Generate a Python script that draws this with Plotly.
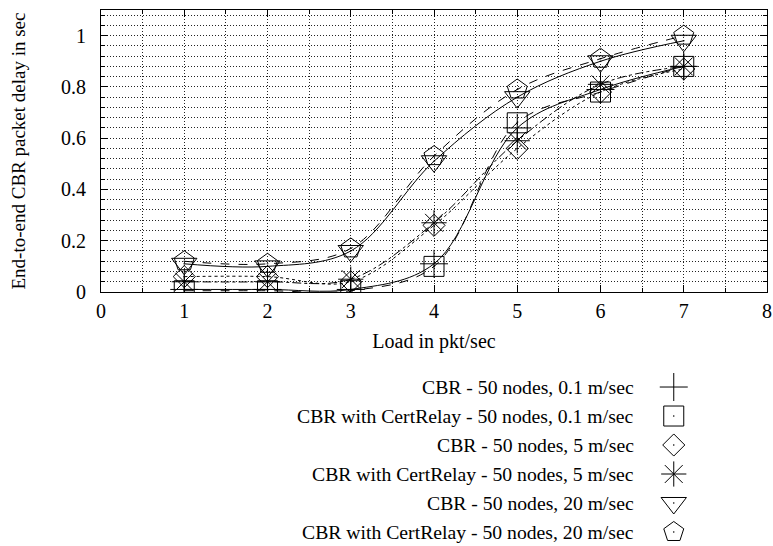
import plotly.graph_objects as go

loads = [1, 2, 3, 4, 5, 6, 7]
names = [
    "CBR - 50 nodes, 0.1 m/sec",
    "CBR with CertRelay - 50 nodes, 0.1 m/sec",
    "CBR - 50 nodes, 5 m/sec",
    "CBR with CertRelay - 50 nodes, 5 m/sec",
    "CBR - 50 nodes, 20 m/sec",
    "CBR with CertRelay - 50 nodes, 20 m/sec",
]
cbr_01 = [0.01, 0.01, 0.01, 0.11, 0.64, 0.79, 0.88]
cert_01 = [0.005, 0.005, 0.005, 0.10, 0.66, 0.78, 0.88]
cbr_5 = [0.06, 0.06, 0.04, 0.26, 0.56, 0.78, 0.87]
cert_5 = [0.04, 0.04, 0.05, 0.27, 0.59, 0.81, 0.88]
cbr_20 = [0.11, 0.10, 0.16, 0.51, 0.76, 0.90, 0.98]
cert_20 = [0.12, 0.11, 0.17, 0.53, 0.79, 0.91, 1.00]
series = [cbr_01, cert_01, cbr_5, cert_5, cbr_20, cert_20]

symbols = ["cross-thin-open", "square-open-dot", "diamond-open-dot",
           "asterisk-open", "triangle-down-open-dot", "pentagon-open-dot"]
sizes = [20, 20, 17, 21, 22, 21]
dashes = ["solid", "dash", "dot", "dashdot", "solid", "dash"]

FONT = "Liberation Serif"
fig = go.Figure()

for name, ys, dash in zip(names, series, dashes):
    fig.add_trace(go.Scatter(
        x=loads, y=ys, mode="lines", name=name, showlegend=False,
        line=dict(color="black", width=1, dash=dash, shape="spline", smoothing=1.0),
        hoverinfo="skip"))
for name, ys, sym, sz in zip(names, series, symbols, sizes):
    fig.add_trace(go.Scatter(
        x=loads, y=ys, mode="markers", name=name, showlegend=False,
        marker=dict(symbol=sym, size=sz, color="black",
                    line=dict(color="black", width=1))))

# custom legend (text left of symbol), in a hidden subplot below the plot
n = len(names)
for i, (name, sym, sz) in enumerate(zip(names, symbols, sizes)):
    fig.add_trace(go.Scatter(
        x=[0.86], y=[n - 1 - i], mode="markers", showlegend=False,
        xaxis="x2", yaxis="y2",
        marker=dict(symbol=sym, size=sz, color="black",
                    line=dict(color="black", width=1))))
    fig.add_annotation(x=0.804, y=n - 1 - i, xref="x2", yref="y2", text=name,
                       showarrow=False, xanchor="right", yanchor="middle",
                       font=dict(family=FONT, size=19.7, color="black"))

grid_col = "#222222"
gdash = "1px,2px"
fig.update_layout(
    template="none",
    width=773, height=546,
    margin=dict(l=101, r=6, t=10, b=4, autoexpand=False),
    paper_bgcolor="white", plot_bgcolor="white",
    font=dict(family=FONT, size=20, color="black"),
    xaxis=dict(
        range=[0, 8], dtick=1, tick0=0, domain=[0, 1], automargin=False,
        showline=True, mirror="allticks", linecolor="black", linewidth=1,
        ticks="inside", ticklen=7, tickcolor="black",
        showgrid=True, gridcolor=grid_col, griddash=gdash, gridwidth=1,
        zeroline=False,
        minor=dict(dtick=0.5, showgrid=True, gridcolor=grid_col, griddash=gdash,
                   ticks="inside", ticklen=4, tickcolor="black"),
        title=dict(text="Load in pkt/sec", standoff=12,
                   font=dict(family=FONT, size=20)),
        tickfont=dict(family=FONT, size=20),
        ticklabelstandoff=1,
        ticklabeloverflow="allow",
        anchor="y",
    ),
    yaxis=dict(
        range=[0, 1.1], dtick=0.2, tick0=0, domain=[0.4699, 1], automargin=False,
        showline=True, mirror="allticks", linecolor="black", linewidth=1,
        ticks="inside", ticklen=7, tickcolor="black",
        showgrid=True, gridcolor=grid_col, griddash=gdash, gridwidth=1,
        zeroline=False,
        minor=dict(dtick=0.04, showgrid=True, gridcolor=grid_col, griddash=gdash,
                   ticks="inside", ticklen=4, tickcolor="black"),
        title=dict(text="End-to-end CBR packet delay in sec", standoff=30,
                   font=dict(family=FONT, size=19)),
        tickfont=dict(family=FONT, size=20),
        ticklabelstandoff=10,
        ticklabeloverflow="allow",
        anchor="x",
    ),
    xaxis2=dict(range=[0, 1], domain=[0, 1], visible=False, anchor="y2"),
    yaxis2=dict(range=[-0.345, 5.517], domain=[0, 0.3195], visible=False, anchor="x2"),
)

fig.write_html("out.html", config={"displayModeBar": False},
               post_script="document.body.style.margin='0';document.body.style.overflow='hidden';")
